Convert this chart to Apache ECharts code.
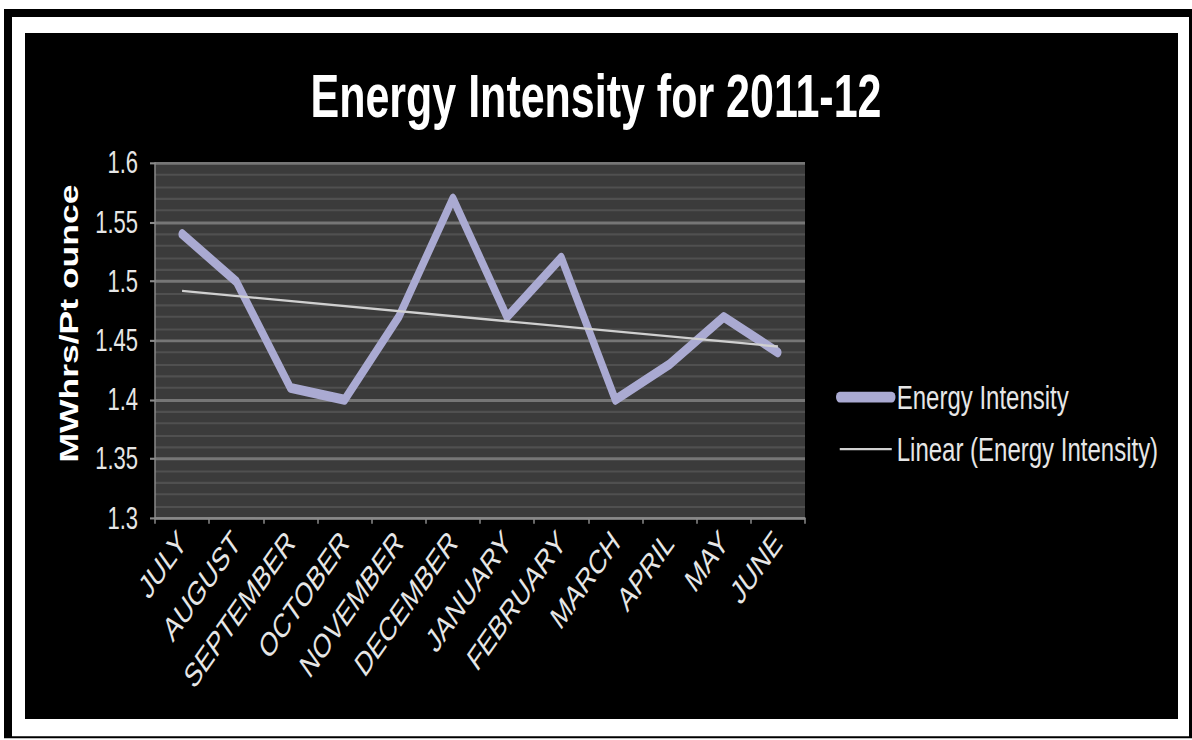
<!DOCTYPE html>
<html>
<head>
<meta charset="utf-8">
<script src="https://cdn.jsdelivr.net/npm/echarts@6/dist/echarts.min.js"></script>
<style>
  html, body { margin: 0; padding: 0; background: #ffffff; overflow: hidden; }
  #chart { position: absolute; left: 0; top: 0; width: 1192px; height: 521px;
           transform: scaleY(1.4203); transform-origin: 0 0; }
</style>
</head>
<body>
<div id="chart"></div>
<script>
// ---- data ----
const months = ['JULY', 'AUGUST', 'SEPTEMBER', 'OCTOBER', 'NOVEMBER', 'DECEMBER',
                'JANUARY', 'FEBRUARY', 'MARCH', 'APRIL', 'MAY', 'JUNE'];
const energyIntensity = [1.54, 1.50, 1.41, 1.40, 1.47, 1.57, 1.47, 1.52, 1.40, 1.43, 1.47, 1.44];
// linear trend line: values read at the first and last month, straight line between
const trendStart = 1.492;
const trendEnd = 1.445;
const yTicks = { min: 1.3, max: 1.6, interval: 0.05 };
const titleText = 'Energy Intensity for 2011-12';
const yAxisName = 'MWhrs/Pt ounce';
const seriesNames = ['Energy Intensity', 'Linear (Energy Intensity)'];

const trendData = months.map((m, i) => i === 0 ? trendStart : (i === months.length - 1 ? trendEnd : null));

const mainColor = '#aaaad2';
const trendColor = '#d0d0d0';
const font = '"Liberation Sans", Arial, sans-serif';
const chart = echarts.init(document.getElementById('chart'), null, { renderer: 'svg' });

chart.setOption({
  backgroundColor: '#ffffff',
  animation: false,
  graphic: [
    { type: 'rect', z: -10, silent: true, shape: { x: 4, y: 6.3, width: 1188, height: 513.4 }, style: { fill: '#000000' } },
    { type: 'rect', z: -9, silent: true, shape: { x: 12, y: 12.0, width: 1177, height: 506.3 }, style: { fill: '#ffffff' } },
    { type: 'rect', z: -8, silent: true, shape: { x: 25, y: 23.2, width: 1153, height: 483.1 }, style: { fill: '#000000' } }
  ],
  title: {
    text: titleText,
    left: 'center',
    top: 46,
    padding: 0,
    textStyle: { color: '#ffffff', fontFamily: font, fontWeight: 'bold', fontSize: 43 }
  },
  legend: {
    orient: 'vertical',
    left: 831,
    top: 262.6,
    itemWidth: 52,
    itemHeight: 14,
    itemGap: 12.6,
    itemStyle: { color: 'rgba(0,0,0,0)', borderColor: 'rgba(0,0,0,0)', borderWidth: 0, opacity: 0 },
    textStyle: { color: '#e6e6e6', fontFamily: font, fontSize: 24 },
    data: [
      { name: seriesNames[0], lineStyle: { color: mainColor, width: 7.5, cap: 'round' } },
      { name: seriesNames[1], lineStyle: { color: trendColor, width: 1.6 } }
    ]
  },
  grid: {
    left: 155, right: 387, top: 114.8, bottom: 156.2,
    show: true, backgroundColor: '#3b3b3b', borderWidth: 0
  },
  xAxis: {
    type: 'category',
    data: months,
    boundaryGap: true,
    axisLine: { lineStyle: { color: '#8a8a8a', width: 1.5 } },
    axisTick: { show: true, length: 4, lineStyle: { color: '#8a8a8a', width: 1.5 } },
    axisLabel: { rotate: 45, margin: 13, interval: 0, color: '#e6e6e6', fontFamily: font, fontSize: 23.5 },
    splitLine: { show: false }
  },
  yAxis: {
    type: 'value',
    min: yTicks.min, max: yTicks.max, interval: yTicks.interval,
    name: yAxisName,
    nameLocation: 'middle',
    nameRotate: 90,
    nameGap: 73,
    nameTextStyle: { color: '#ffffff', fontFamily: font, fontWeight: 'bold', fontSize: 25, padding: [0, 0, 0, 24] },
    axisLine: { show: true, lineStyle: { color: '#8a8a8a', width: 1.5 } },
    axisTick: { show: true, length: 5, lineStyle: { color: '#8a8a8a', width: 1.5 } },
    axisLabel: { margin: 17, color: '#e6e6e6', fontFamily: font, fontSize: 22 },
    splitLine: { show: true, lineStyle: { color: '#767676', width: 2 } },
    minorTick: { show: false, splitNumber: 5 },
    minorSplitLine: { show: true, lineStyle: { color: '#505050', width: 1.5 } }
  },
  series: [
    {
      name: seriesNames[0],
      type: 'line',
      data: energyIntensity,
      symbol: 'none',
      showSymbol: false,
      z: 3,
      lineStyle: { color: mainColor, width: 7, cap: 'round', join: 'round' },
      itemStyle: { color: mainColor }
    },
    {
      name: seriesNames[1],
      type: 'line',
      data: trendData,
      connectNulls: true,
      symbol: 'none',
      showSymbol: false,
      z: 4,
      lineStyle: { color: trendColor, width: 1.6 },
      itemStyle: { color: trendColor }
    }
  ]
});
</script>
</body>
</html>
